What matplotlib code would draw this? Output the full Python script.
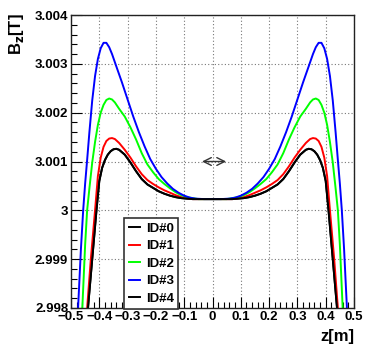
import numpy as np
import matplotlib
matplotlib.use("Agg")
import matplotlib.pyplot as plt
from matplotlib.ticker import MultipleLocator, FuncFormatter

# left half readings (z <= 0), mirrored for the right half
z_id3 = [-0.49, -0.475, -0.465, -0.457, -0.45, -0.443, -0.435, -0.425, -0.415, -0.405, -0.395,
         -0.385, -0.375, -0.365, -0.355, -0.34, -0.32, -0.30, -0.28, -0.26, -0.24, -0.22, -0.20,
         -0.18, -0.16, -0.14, -0.12, -0.10, -0.08, -0.06, -0.03, 0.0]
b_id3 = [2.9967, 2.998, 2.9992, 3.0000, 3.00055, 3.00103, 3.0016, 3.00225, 3.00275, 3.00310, 3.00332,
         3.00343, 3.00343, 3.00334, 3.00320, 3.00295, 3.00262, 3.00227, 3.00192, 3.00160, 3.00131,
         3.00105, 3.00085, 3.00068, 3.00055, 3.00044, 3.00036, 3.00030, 3.00026, 3.00024, 3.00023,
         3.00023]

z_id2 = [-0.48, -0.46, -0.45, -0.443, -0.435, -0.425, -0.415, -0.405, -0.395, -0.385, -0.375, -0.365,
         -0.355, -0.345, -0.33, -0.31, -0.29, -0.27, -0.25, -0.23, -0.21, -0.19, -0.17, -0.15, -0.13,
         -0.11, -0.09, -0.07, -0.05, 0.0]
b_id2 = [2.9968, 2.998, 2.9993, 3.0000, 3.00045, 3.00098, 3.00140, 3.00175, 3.00200, 3.00216, 3.00226,
         3.00229, 3.00227, 3.00221, 3.00208, 3.00192, 3.00170, 3.00145, 3.00117, 3.00094, 3.00078,
         3.00064, 3.00054, 3.00045, 3.00037, 3.00031, 3.00027, 3.00025, 3.00023, 3.00023]

z_id1 = [-0.47, -0.443, -0.43, -0.415, -0.405, -0.395, -0.385, -0.375, -0.365, -0.355, -0.345, -0.33,
         -0.31, -0.29, -0.27, -0.25, -0.23, -0.21, -0.19, -0.17, -0.15, -0.13, -0.11, -0.09, -0.07, 0.0]
b_id1 = [2.9965, 2.998, 2.999, 3.0000, 3.0007, 3.00108, 3.00130, 3.00142, 3.00147, 3.00148, 3.00146,
         3.00138, 3.00124, 3.00108, 3.00090, 3.00074, 3.00062, 3.00054, 3.00047, 3.00041, 3.00036,
         3.00031, 3.00027, 3.00025, 3.00023, 3.00023]

z_id0 = [-0.47, -0.44, -0.425, -0.41, -0.40, -0.39, -0.38, -0.37, -0.36, -0.35, -0.34, -0.33, -0.31,
         -0.29, -0.27, -0.25, -0.23, -0.21, -0.19, -0.17, -0.15, -0.13, -0.11, -0.09, -0.07, 0.0]
b_id0 = [2.9962, 2.998, 2.999, 3.0000, 3.0006, 3.00087, 3.00103, 3.00114, 3.00121, 3.00125, 3.00126,
         3.00124, 3.00114, 3.00098, 3.00080, 3.00064, 3.00053, 3.00046, 3.00039, 3.00034, 3.00030,
         3.00027, 3.00025, 3.00024, 3.00023, 3.00023]

z_id4 = z_id0
b_id4 = b_id0

labels = ["ID#0", "ID#1", "ID#2", "ID#3", "ID#4"]
colors = ["black", "red", "#00ff00", "blue", "black"]


def mirror(z, b):
    z = np.array(z)
    b = np.array(b)
    return np.concatenate([z, -z[::-1][1:]]), np.concatenate([b, b[::-1][1:]])


plt.rcParams["font.family"] = ["Liberation Sans", "DejaVu Sans"]
plt.rcParams["font.weight"] = "bold"
plt.rcParams["mathtext.default"] = "bf"

fig = plt.figure(figsize=(3.66, 3.45), dpi=100)
ax = fig.add_axes([71 / 366, 1 - 308 / 345, 283 / 366, 293 / 345])

series = [(z_id0, b_id0), (z_id1, b_id1), (z_id2, b_id2), (z_id3, b_id3), (z_id4, b_id4)]
for (z, b), lab, col in zip(series, labels, colors):
    zz, bb = mirror(z, b)
    ax.plot(zz, bb, color=col, lw=1.4, label=lab)

ax.set_xlim(-0.5, 0.5)
ax.set_ylim(2.998, 3.004)
ax.xaxis.set_major_locator(MultipleLocator(0.1))
ax.xaxis.set_minor_locator(MultipleLocator(0.02))
ax.yaxis.set_major_locator(MultipleLocator(0.001))
ax.yaxis.set_minor_locator(MultipleLocator(0.0002))
ax.xaxis.set_major_formatter(FuncFormatter(lambda v, p: ("%g" % round(v, 3)).replace("-", "\u2212")))
ax.yaxis.set_major_formatter(FuncFormatter(lambda v, p: "%g" % round(v, 4)))
ax.tick_params(which="both", direction="in", labelsize=9.5, width=0.8, pad=2)
ax.tick_params(which="major", length=8)
ax.tick_params(which="minor", length=4)
ax.grid(True, which="major", color="#777777", lw=0.8, linestyle=(0, (1, 2)))
for s in ax.spines.values():
    s.set_color("#222222")
    s.set_linewidth(1.0)

ax.annotate("", xy=(-0.047, 3.001), xytext=(0.058, 3.001),
            arrowprops=dict(arrowstyle="<->", color="#333333", lw=1.0, mutation_scale=14))

leg = ax.legend(loc="lower left", bbox_to_anchor=(0.187, -0.005), borderaxespad=0,
                fontsize=9.5, handlelength=0.9, handletextpad=0.4, labelspacing=0.4,
                fancybox=False, framealpha=1, edgecolor="#333333", borderpad=0.35)
leg.get_frame().set_linewidth(1.2)

fig.text(0.045, 0.962, r"B$_{z}$[T]", rotation=90, ha="center", va="top", fontsize=12)
fig.text(354 / 366, 1 - 337 / 345, "z[m]", ha="right", va="center", fontsize=12)

fig.savefig("out.png", dpi=100)
